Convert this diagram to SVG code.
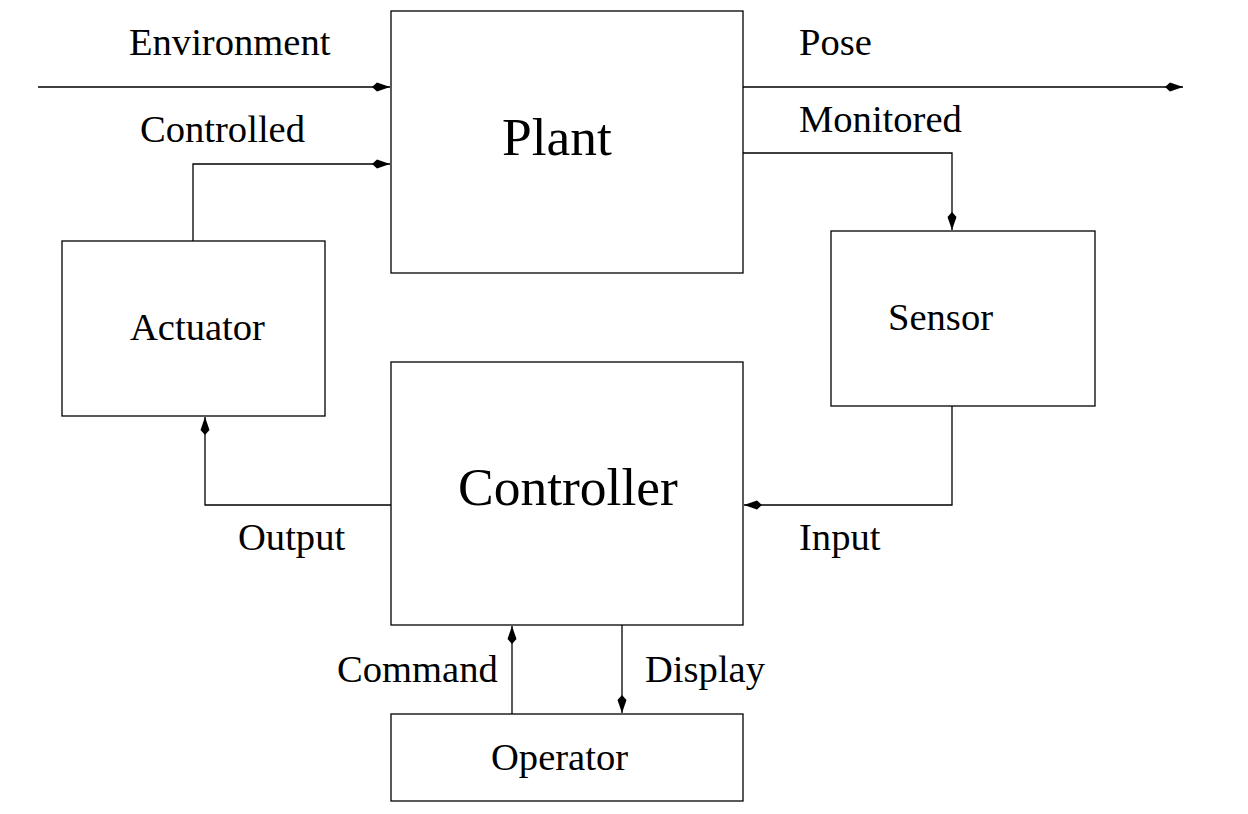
<svg xmlns="http://www.w3.org/2000/svg" width="1248" height="814" viewBox="0 0 1248 814">
<style>
.box{fill:#fff;stroke:#000;stroke-width:1.3}
.ln{fill:none;stroke:#000;stroke-width:1.3}
text{font-family:"Liberation Serif","Times New Roman",serif;fill:#000}
.lbl{font-size:38.6px}
.big{font-size:53.5px}
</style>
<defs>
<marker id="ah" markerUnits="userSpaceOnUse" markerWidth="20" markerHeight="12" refX="18" refY="6" orient="auto" viewBox="0 0 20 12">
<path d="M0,6 L5,1.5 L18,6 L5,10.5 Z" fill="#000"/>
</marker>
</defs>
<rect width="1248" height="814" fill="#fff"/>
<g id="connectors">
<path class="ln" d="M38,87 H390" marker-end="url(#ah)"/>
<path class="ln" d="M743,87 H1183" marker-end="url(#ah)"/>
<path class="ln" d="M193,241 V164 H390" marker-end="url(#ah)"/>
<path class="ln" d="M743,153 H952 V230" marker-end="url(#ah)"/>
<path class="ln" d="M952,406 V505 H744" marker-end="url(#ah)"/>
<path class="ln" d="M391,505 H205 V417" marker-end="url(#ah)"/>
<path class="ln" d="M512,714 V626" marker-end="url(#ah)"/>
<path class="ln" d="M622,625 V713" marker-end="url(#ah)"/>
<text class="lbl" x="129" y="55">Environment</text>
<text class="lbl" x="799" y="55">Pose</text>
<text class="lbl" x="140" y="142">Controlled</text>
<text class="lbl" x="799" y="132">Monitored</text>
<text class="lbl" x="238" y="550">Output</text>
<text class="lbl" x="799" y="550">Input</text>
<text class="lbl" x="337" y="682">Command</text>
<text class="lbl" x="645" y="682">Display</text>
</g>
<g id="plant">
<rect class="box" x="391" y="11" width="352" height="262"/>
<text class="big" x="502" y="155">Plant</text>
</g>
<g id="sensor">
<rect class="box" x="831" y="231" width="264" height="175"/>
<text class="lbl" x="888" y="330">Sensor</text>
</g>
<g id="actuator">
<rect class="box" x="62" y="241" width="263" height="175"/>
<text class="lbl" x="130" y="340">Actuator</text>
</g>
<g id="controller">
<rect class="box" x="391" y="362" width="352" height="263"/>
<text class="big" x="458" y="505">Controller</text>
</g>
<g id="operator">
<rect class="box" x="391" y="714" width="352" height="87"/>
<text class="lbl" x="491" y="770">Operator</text>
</g>
</svg>
